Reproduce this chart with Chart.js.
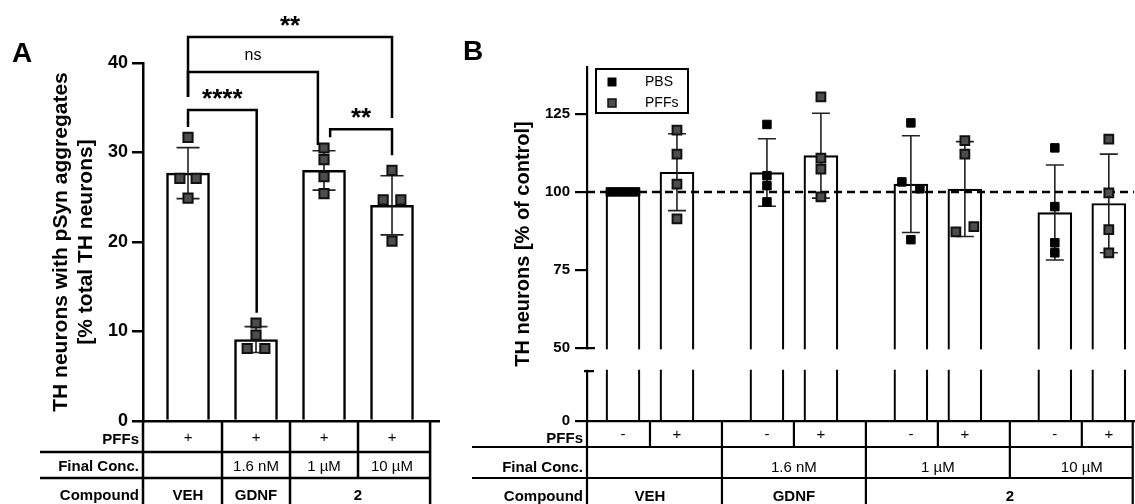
<!DOCTYPE html>
<html>
<head>
<meta charset="utf-8">
<title>TH neurons with pSyn aggregates / TH neurons [% of control]</title>
<script src="https://cdn.jsdelivr.net/npm/chart.js"></script>
<style>
  html, body { margin: 0; padding: 0; background: #fff; overflow: hidden; }
  #wrap { position: relative; width: 1135px; height: 504px; }
  canvas { position: absolute; top: 0; }
  #chartA { left: 0; }
  #chartB { left: 455px; }
</style>
</head>
<body>
<div id="wrap">
  <canvas id="chartA" width="455" height="504"></canvas>
  <canvas id="chartB" width="680" height="504"></canvas>
</div>
<script>
// ---------- panel A: % TH neurons with pSyn aggregates ----------
const barPosA = [1, 2, 3, 4];
const meanA = [27.7, 9.1, 28.0, 24.1];
const sdA = [2.85, 1.45, 2.2, 3.3];
const pointsA = [
  [31.7, 27.1, 27.1, 24.9],
  [10.95, 9.6, 8.1, 8.1],
  [30.5, 29.2, 27.3, 25.4],
  [28.0, 24.7, 24.7, 20.1]
];
const jitterA = [
  [0, -0.12, 0.12, 0],
  [0, 0, -0.13, 0.13],
  [0, 0, 0, 0],
  [0, -0.13, 0.13, 0]
];
const yTicksA = [0, 10, 20, 30, 40];
const pffRowA = ['+', '+', '+', '+'];
const concRowA = ['', '1.6 nM', '1 µM', '10 µM'];
const compoundA = [{ label: 'VEH', cols: [0] }, { label: 'GDNF', cols: [1] }, { label: '2', cols: [2, 3] }];
// significance brackets (x in bar units, y in % units)
const sigA = [
  { label: '**', x1: 1, x2: 4, y: 42.9, end1: 36.2, end2: 33.85 },
  { label: 'ns', x1: 1, x2: 2.91, y: 39.0, end1: 36.2, end2: 30.85 },
  { label: '****', x1: 1, x2: 2.01, y: 34.75, end1: 32.85, end2: 12.1 },
  { label: '**', x1: 3.09, x2: 4, y: 32.6, end1: 31.7, end2: 29.7 }
];

// ---------- panel B: TH neurons [% of control] ----------
const groupsB = ['VEH', 'GDNF 1.6 nM', '2 1 µM', '2 10 µM'];
const xPBS = [0, 8, 16, 24];
const xPFF = [3, 11, 19, 27];
const meanPBS = [100, 106.2, 102.5, 93.4];
const sdPBS = [0, 10.8, 15.5, 15.2];
const meanPFF = [106.3, 111.6, 100.9, 96.3];
const sdPFF = [12.3, 13.6, 15.2, 15.8];
const pointsPBS = [
  [100, 100, 100, 100],
  [121.6, 105.2, 102.0, 96.8],
  [122.1, 103.2, 101.0, 84.7],
  [114.1, 95.3, 83.7, 80.5]
];
const jitterPBS = [
  [-0.7, -0.23, 0.23, 0.7],
  [0, 0, 0, 0],
  [0, -0.5, 0.5, 0],
  [0, 0, 0, 0]
];
const pointsPFF = [
  [119.8, 112.1, 102.5, 91.4],
  [130.4, 110.8, 107.3, 98.4],
  [116.4, 112.1, 87.2, 88.9],
  [116.9, 99.7, 87.9, 80.5]
];
const jitterPFF = [
  [0, 0, 0, 0],
  [0, 0, 0, 0],
  [0, 0, -0.5, 0.5],
  [0, 0, 0, 0]
];
const controlLevel = 100;
const yTicksB = [0, 50, 75, 100, 125];
const pffRowB = ['-', '+', '-', '+', '-', '+', '-', '+'];
const concRowB = ['', '1.6 nM', '1 µM', '10 µM'];
const compoundB = [{ label: 'VEH', cols: [0] }, { label: 'GDNF', cols: [1] }, { label: '2', cols: [2, 3] }];

// ---------- shared ----------
const FAMILY = "'Liberation Sans', Arial, Helvetica, sans-serif";
Chart.defaults.font.family = FAMILY;
Chart.defaults.color = '#000';

const toPoints = (xs, pts, jit) =>
  pts.flatMap((vals, i) => vals.map((v, j) => ({ x: xs[i] + jit[i][j], y: v })));

// y axis with a gap between two linear segments
class BrokenScale extends Chart.LinearScale {
  static id = 'broken';
  static defaults = Chart.LinearScale.defaults;
  _k() {
    const b = this.options.brk;
    return (this.bottom - this.top - b.gap) / ((b.low - this.min) + (this.max - b.high));
  }
  getPixelForValue(v) {
    const b = this.options.brk, k = this._k();
    if (v <= b.low) return this.bottom - (v - this.min) * k;
    const lowTop = this.bottom - (b.low - this.min) * k;
    if (v < b.high) return lowTop - b.gap * (v - b.low) / (b.high - b.low);
    return lowTop - b.gap - (v - b.high) * k;
  }
  getValueForPixel(p) {
    const b = this.options.brk, k = this._k();
    const lowTop = this.bottom - (b.low - this.min) * k;
    if (p >= lowTop) return this.min + (this.bottom - p) / k;
    if (p > lowTop - b.gap) return b.low + (lowTop - p) / b.gap * (b.high - b.low);
    return b.high + (lowTop - b.gap - p) / k;
  }
}
Chart.register(BrokenScale);

function errorBars(capWidth, lineWidth) {
  return {
    id: 'errorBars',
    afterDatasetDraw(chart, args) {
      const ds = chart.data.datasets[args.index];
      if (!ds.sd) return;
      const { ctx, scales: { x, y } } = chart;
      ctx.save();
      ctx.strokeStyle = '#222';
      ctx.lineWidth = lineWidth;
      ds.data.forEach((d, i) => {
        const s = ds.sd[i];
        if (!s) return;
        const px = x.getPixelForValue(d.x);
        const top = y.getPixelForValue(d.y + s);
        const bot = y.getPixelForValue(d.y - s);
        ctx.beginPath();
        ctx.moveTo(px, top); ctx.lineTo(px, bot);
        ctx.moveTo(px - capWidth / 2, top); ctx.lineTo(px + capWidth / 2, top);
        ctx.moveTo(px - capWidth / 2, bot); ctx.lineTo(px + capWidth / 2, bot);
        ctx.stroke();
      });
      ctx.restore();
    }
  };
}

function panelLabel(text, x, y) {
  return {
    id: 'panelLabel',
    afterDraw(chart) {
      const ctx = chart.ctx;
      ctx.save();
      ctx.font = `bold 28px ${FAMILY}`;
      ctx.fillStyle = '#000';
      ctx.textAlign = 'left';
      ctx.textBaseline = 'alphabetic';
      ctx.fillText(text, x, y);
      ctx.restore();
    }
  };
}

// the condition table under the x axis
function conditionTable(t) {
  return {
    id: 'conditionTable',
    afterDraw(chart) {
      const { ctx, chartArea: area, scales: { x } } = chart;
      const px = v => x.getPixelForValue(v);
      const right = px(t.rightEdge);
      const seg = (x1, y1, x2, y2) => { ctx.beginPath(); ctx.moveTo(x1, y1); ctx.lineTo(x2, y2); ctx.stroke(); };
      ctx.save();
      ctx.strokeStyle = '#000';
      ctx.fillStyle = '#000';
      ctx.lineWidth = t.lineWidth;
      ctx.textBaseline = 'middle';
      seg(area.left, area.bottom, area.left, chart.height);
      t.rows.forEach(r => {
        if (r.bottom < chart.height) seg(t.labelLeft, r.bottom, right, r.bottom);
        r.bounds.forEach(b => seg(px(b), r.top, px(b), r.bottom));
        seg(right, r.top, right, r.bottom);
        ctx.font = `bold 15px ${FAMILY}`;
        ctx.textAlign = 'right';
        ctx.fillText(r.label, area.left - 4, r.labelY);
        ctx.font = `${r.bold ? 'bold ' : ''}15px ${FAMILY}`;
        ctx.textAlign = 'center';
        r.cells.forEach(c => ctx.fillText(c.text, px(c.x), r.textY));
      });
      ctx.restore();
    }
  };
}

const mid = arr => arr.map((v, i) => i ? (arr[i - 1] + v) / 2 : null).slice(1);
const spanCenter = (centers, cols) => cols.reduce((s, c) => s + centers[c], 0) / cols.length;

// ---------- chart A ----------
const xMinA = 0.338, xMaxA = 4.691;
const boundsA = mid(barPosA);

new Chart(document.getElementById('chartA'), {
  type: 'bar',
  data: {
    datasets: [
      {
        type: 'scatter', label: 'PFFs',
        data: toPoints(barPosA, pointsA, jitterA),
        pointStyle: 'rect', pointRadius: 6.5,
        backgroundColor: '#4d4d4d', borderColor: '#111', borderWidth: 2,
        order: 1
      },
      {
        type: 'bar', label: 'mean',
        data: barPosA.map((x, i) => ({ x, y: meanA[i] })),
        sd: sdA,
        backgroundColor: '#fff', borderColor: '#000', borderWidth: 2.5,
        barThickness: 43, order: 2
      }
    ]
  },
  options: {
    responsive: false, animation: false, events: [],
    layout: { padding: { left: 0, right: 16, top: 63, bottom: 83 }, autoPadding: false },
    plugins: { legend: { display: false }, tooltip: { enabled: false } },
    scales: {
      x: {
        type: 'linear', min: xMinA, max: xMaxA, offset: false,
        ticks: { display: false }, grid: { display: false },
        border: { color: '#000', width: 2.5 },
        afterFit: s => { s.height = 0; }
      },
      y: {
        min: 0, max: 40,
        afterBuildTicks: s => { s.ticks = yTicksA.map(value => ({ value })); },
        afterFit: s => { s.width = 143; },
        ticks: { font: { size: 18, weight: 'bold' }, padding: 4, color: '#000' },
        grid: { drawOnChartArea: false, tickLength: 11, color: '#000', lineWidth: 2.5 },
        border: { color: '#000', width: 2.5 },
        title: {
          display: true,
          text: ['TH neurons with pSyn aggregates', '[% total TH neurons]'],
          font: { size: 21, weight: 'bold', lineHeight: '25px' },
          padding: { top: 48.5, bottom: 0 }, color: '#000'
        }
      }
    }
  },
  plugins: [
    errorBars(23, 1.6),
    panelLabel('A', 12, 62),
    {
      id: 'sigBrackets',
      afterDraw(chart) {
        const { ctx, scales: { x, y } } = chart;
        ctx.save();
        ctx.strokeStyle = '#000';
        ctx.fillStyle = '#000';
        ctx.lineWidth = 2.5;
        ctx.textAlign = 'center';
        ctx.textBaseline = 'alphabetic';
        sigA.forEach(s => {
          const x1 = x.getPixelForValue(s.x1), x2 = x.getPixelForValue(s.x2);
          const yy = y.getPixelForValue(s.y);
          ctx.beginPath();
          ctx.moveTo(x1, y.getPixelForValue(s.end1));
          ctx.lineTo(x1, yy);
          ctx.lineTo(x2, yy);
          ctx.lineTo(x2, y.getPixelForValue(s.end2));
          ctx.stroke();
          const stars = s.label.includes('*');
          ctx.font = stars ? `bold 26px ${FAMILY}` : `16px ${FAMILY}`;
          ctx.fillText(s.label, (x1 + x2) / 2, yy - (stars ? 3 : 12));
        });
        ctx.restore();
      }
    },
    conditionTable({
      labelLeft: 40, rightEdge: 4.56, lineWidth: 2.5,
      rows: [
        { label: 'PFFs', top: 421, bottom: 452, labelY: 440, textY: 438, bounds: boundsA,
          cells: pffRowA.map((text, i) => ({ text, x: barPosA[i] })) },
        { label: 'Final Conc.', top: 452, bottom: 478, labelY: 467, textY: 467, bounds: boundsA,
          cells: concRowA.map((text, i) => ({ text, x: barPosA[i] })) },
        { label: 'Compound', top: 478, bottom: 520, labelY: 496, textY: 496, bold: true,
          bounds: [boundsA[0], boundsA[1]],
          cells: compoundA.map(c => ({ text: c.label, x: spanCenter(barPosA, c.cols) })) }
      ]
    })
  ]
});

// ---------- chart B ----------
const xMinB = -2, xMaxB = 28.4;
const groupCenterB = xPBS.map((x, i) => (x + xPFF[i]) / 2);
const groupBoundsB = xPFF.slice(0, -1).map((x, i) => (x + xPBS[i + 1]) / 2);
const barXB = xPBS.flatMap((x, i) => [x, xPFF[i]]);

new Chart(document.getElementById('chartB'), {
  type: 'bar',
  data: {
    datasets: [
      {
        type: 'scatter', label: 'PBS',
        data: toPoints(xPBS, pointsPBS, jitterPBS),
        pointStyle: 'rect', pointRadius: 6,
        backgroundColor: '#000', borderColor: '#000', borderWidth: 1,
        order: 1
      },
      {
        type: 'scatter', label: 'PFFs',
        data: toPoints(xPFF, pointsPFF, jitterPFF),
        pointStyle: 'rect', pointRadius: 6.2,
        backgroundColor: '#4d4d4d', borderColor: '#111', borderWidth: 2,
        order: 1
      },
      {
        type: 'line', label: 'control',
        data: [{ x: xMinB, y: controlLevel }, { x: xMaxB, y: controlLevel }],
        borderColor: '#000', borderWidth: 2.5, borderDash: [8, 5],
        pointRadius: 0, fill: false, order: 2
      },
      {
        type: 'bar', label: 'PBS mean',
        data: xPBS.map((x, i) => ({ x, y: meanPBS[i] })), sd: sdPBS,
        backgroundColor: '#fff', borderColor: '#000', borderWidth: 2.2,
        barThickness: 34, grouped: false, order: 3
      },
      {
        type: 'bar', label: 'PFFs mean',
        data: xPFF.map((x, i) => ({ x, y: meanPFF[i] })), sd: sdPFF,
        backgroundColor: '#fff', borderColor: '#000', borderWidth: 2.2,
        barThickness: 34, grouped: false, order: 3
      }
    ]
  },
  options: {
    responsive: false, animation: false, events: [],
    layout: { padding: { left: 0, right: 1, top: 67, bottom: 83 }, autoPadding: false },
    plugins: { legend: { display: false }, tooltip: { enabled: false } },
    scales: {
      x: {
        type: 'linear', min: xMinB, max: xMaxB, offset: false,
        ticks: { display: false }, grid: { display: false },
        border: { color: '#000', width: 2.2 },
        afterFit: s => { s.height = 0; }
      },
      y: {
        type: 'broken', min: 0, max: 140,
        brk: { low: 16, high: 50, gap: 23 },
        afterBuildTicks: s => { s.ticks = yTicksB.map(value => ({ value })); },
        afterFit: s => { s.width = 132; },
        ticks: { font: { size: 15, weight: 'bold' }, padding: 5, color: '#000' },
        grid: { drawOnChartArea: false, tickLength: 12, color: '#000', lineWidth: 2.2 },
        border: { color: '#000', width: 2.2 },
        title: {
          display: true, text: 'TH neurons [% of control]',
          font: { size: 20, weight: 'bold', lineHeight: '24px' },
          padding: { top: 56, bottom: 0 }, color: '#000'
        }
      }
    }
  },
  plugins: [
    errorBars(18, 1.6),
    panelLabel('B', 8, 60),
    {
      id: 'axisBreak',
      afterDatasetsDraw(chart) {
        const { ctx, chartArea: a, scales: { y } } = chart;
        const b = y.options.brk;
        const yHigh = y.getPixelForValue(b.high), yLow = y.getPixelForValue(b.low);
        ctx.save();
        ctx.fillStyle = '#fff';
        ctx.fillRect(a.left - 3, yHigh + 1.3, a.right - a.left + 3, yLow - yHigh - 2.6);
        ctx.strokeStyle = '#000';
        ctx.lineWidth = 2.2;
        ctx.beginPath();
        ctx.moveTo(a.left - 2, yHigh); ctx.lineTo(a.left + 8, yHigh);
        ctx.moveTo(a.left - 3, yLow); ctx.lineTo(a.left + 7, yLow);
        ctx.stroke();
        ctx.restore();
      }
    },
    {
      id: 'legendBox',
      afterDraw(chart) {
        const ctx = chart.ctx;
        const items = chart.data.datasets.filter(d => d.type === 'scatter');
        ctx.save();
        ctx.strokeStyle = '#000';
        ctx.lineWidth = 2;
        ctx.strokeRect(141, 69, 92, 44);
        ctx.font = `14px ${FAMILY}`;
        ctx.textAlign = 'left';
        ctx.textBaseline = 'middle';
        items.forEach((d, i) => {
          const cy = 82 + i * 21;
          ctx.fillStyle = d.backgroundColor;
          ctx.fillRect(153, cy - 4, 8, 8);
          ctx.strokeStyle = d.borderColor;
          ctx.lineWidth = d.borderWidth > 1 ? 1.5 : 1;
          ctx.strokeRect(153, cy - 4, 8, 8);
          ctx.fillStyle = '#000';
          ctx.fillText(d.label, 190, cy);
        });
        ctx.restore();
      }
    },
    conditionTable({
      labelLeft: 17, rightEdge: 28.33, lineWidth: 2.2,
      rows: [
        { label: 'PFFs', top: 421, bottom: 447, labelY: 439, textY: 435,
          bounds: [...groupCenterB, ...groupBoundsB],
          cells: pffRowB.map((text, i) => ({ text, x: barXB[i] })) },
        { label: 'Final Conc.', top: 447, bottom: 478, labelY: 468, textY: 468,
          bounds: groupBoundsB,
          cells: concRowB.map((text, i) => ({ text, x: groupCenterB[i] })) },
        { label: 'Compound', top: 478, bottom: 520, labelY: 497, textY: 497, bold: true,
          bounds: [groupBoundsB[0], groupBoundsB[1]],
          cells: compoundB.map(c => ({ text: c.label, x: spanCenter(groupCenterB, c.cols) })) }
      ]
    })
  ]
});
</script>
</body>
</html>
